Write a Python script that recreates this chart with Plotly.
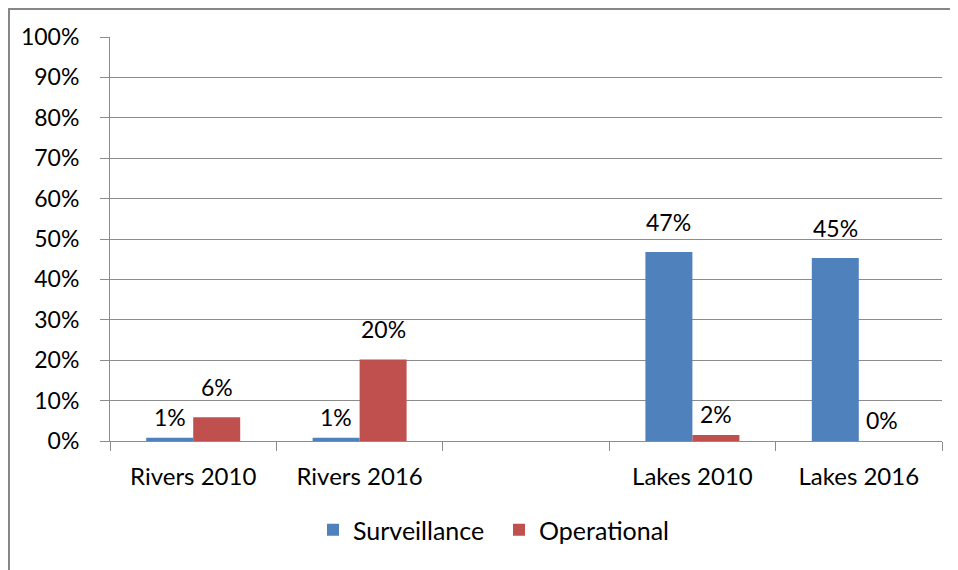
import plotly.graph_objects as go

categories = ["Rivers 2010", "Rivers 2016", " ", "Lakes 2010", "Lakes 2016"]
surveillance = [0.008, 0.008, None, 0.468, 0.453]
operational = [0.059, 0.202, None, 0.015, 0.0]
y_ticks = [0, 0.1, 0.2, 0.3, 0.4, 0.5, 0.6, 0.7, 0.8, 0.9, 1.0]

FONT = "Lato"
BLUE = "#4F81BD"
RED = "#C0504D"

fig = go.Figure()
fig.add_trace(go.Bar(x=categories, y=surveillance, name="Surveillance",
                     marker=dict(color=BLUE, line=dict(width=0))))
fig.add_trace(go.Bar(x=categories, y=operational, name="Operational",
                     marker=dict(color=RED, line=dict(width=0))))

# page body has an 8px margin, so the figure is drawn 8px in from the corner
OFF = 8
W, H = 958 - OFF, 570 - OFF
L, R, T, B = 110 - OFF, 16, 37 - OFF, 129
pw, ph = W - L - R, H - T - B
slot = pw / len(categories)
group_w = 94
bargap = 1 - group_w / slot
half = group_w / 4

annotations = []
for series, shift in ((surveillance, -half), (operational, half)):
    for c, v in zip(categories, series):
        if v is None:
            continue
        annotations.append(dict(
            x=c, y=v, xref="x", yref="y", text=f"{round(v*100):.0f}%",
            showarrow=False, yanchor="bottom", xanchor="center",
            xshift=shift, yshift=14 if v > 0.03 else 5,
            font=dict(family=FONT, size=23, color="#000000")))

fig.update_layout(
    width=W, height=H,
    margin=dict(l=L, r=R, t=T, b=B),
    paper_bgcolor="white", plot_bgcolor="white",
    barmode="group", bargap=bargap, bargroupgap=0,
    font=dict(family=FONT, size=23, color="#000000"),
    showlegend=True,
    legend=dict(orientation="h", x=(313 - 110) / pw, xanchor="left",
                y=-(530 - 441) / ph, yanchor="middle",
                font=dict(family=FONT, size=25), bgcolor="rgba(0,0,0,0)",
                entrywidth=141, entrywidthmode="pixels"),
    annotations=annotations,
    shapes=[dict(type="rect", xref="paper", yref="paper",
                 x0=-(L - 1) / pw, x1=(W + 40 - L) / pw,
                 y0=-(H + 40 - T - ph) / ph, y1=1 + (T - 1) / ph,
                 line=dict(color="#878787", width=2), layer="below")],
)
fig.update_xaxes(
    type="category", showgrid=False, showline=True, linecolor="#8c8c8c", linewidth=1,
    ticks="outside", tickson="boundaries", ticklen=9, tickcolor="#8c8c8c",
    tickfont=dict(family=FONT, size=24), ticklabelstandoff=14,
)
fig.update_yaxes(
    range=[0, 1], tickvals=y_ticks, tickformat=".0%",
    showgrid=True, gridcolor="#8c8c8c", gridwidth=1,
    showline=True, linecolor="#8c8c8c", linewidth=1,
    ticks="outside", ticklen=9, tickcolor="#8c8c8c",
    tickfont=dict(family=FONT, size=23), ticklabelstandoff=16,
    zeroline=False,
)
fig.write_html("out.html")
